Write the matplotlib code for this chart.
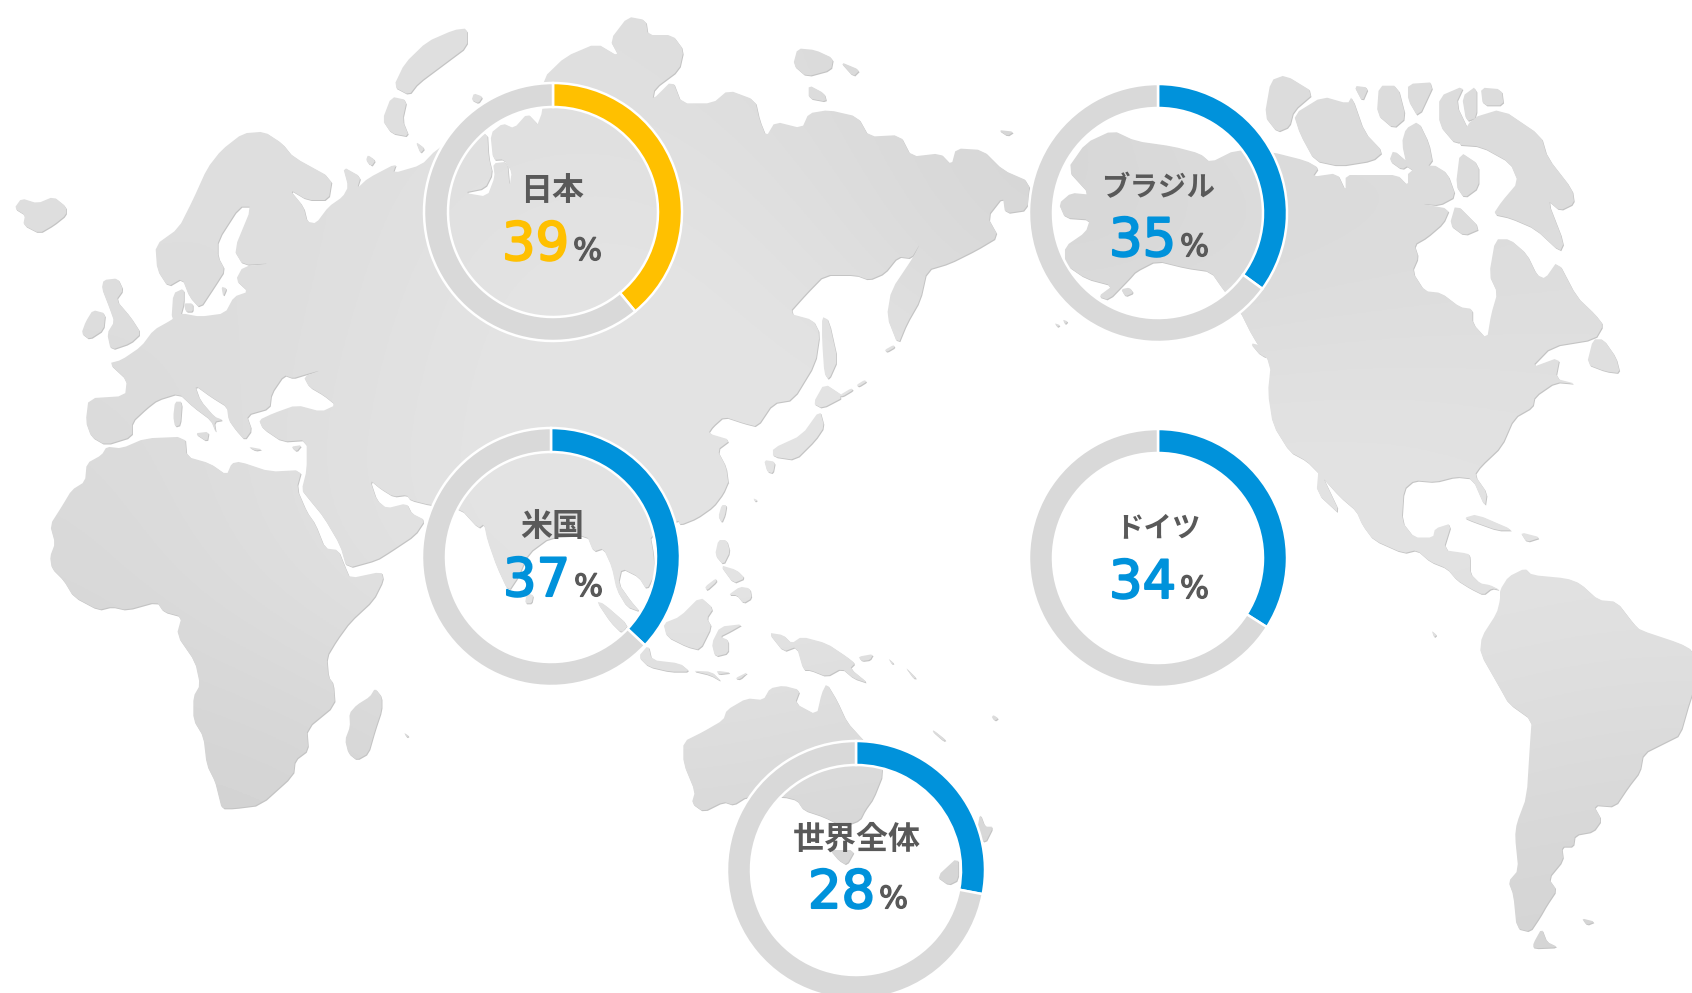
import numpy as np
import matplotlib
matplotlib.use("Agg")
import matplotlib.pyplot as plt
import matplotlib.patheffects as pe
from matplotlib.path import Path
from matplotlib.patches import PathPatch
from matplotlib.transforms import Affine2D

# ---------- data ----------
labels = ["日本", "ブラジル", "米国", "ドイツ", "世界全体"]
values = [39, 35, 37, 34, 28]
number_colors = ["#FFC000", "#0092DB", "#0092DB", "#0092DB", "#0092DB"]

# ---------- layout (pixels of the 1692x993 picture, y down) ----------
centers = [(553, 212), (1158, 213), (551, 557), (1158, 558), (856, 870)]
label_dx = [-1, 0, 1, 0, 1]
label_dy = [-21, -25, -30, -30, -30]
label_size = [23, 20.5, 23, 20.5, 23]
base_dy = [48, 43, 39, 40, 38]
num_dx = [-51, -49, -48, -49, -48]
W, H = 1692, 993

# origin and scale of the traced outlines of the background map
FR = {"a": (0, 100, 2.8, 3), "b": (30, 420, 3, 3), "c": (360, 0, 2.24, 3),
      "d": (1040, 50, 2.405, 2.8), "e": (1300, 540, 3, 3), "f": (580, 480, 3, 3),
      "g": (390, 420, 3, 3)}


def Z(k, pts):
    x0, y0, sx, sy = FR[k]
    return [(x0 + a / sx, H - (y0 + b / sy)) for a, b in pts]


def soften(poly, r=0.18):
    """Round the corners of a traced outline a little."""
    out = []
    n = len(poly)
    for i in range(n):
        (ax_, ay_), (bx_, by_) = poly[i], poly[(i + 1) % n]
        out.append((ax_ + r * (bx_ - ax_), ay_ + r * (by_ - ay_)))
        out.append((bx_ - r * (bx_ - ax_), by_ - r * (by_ - ay_)))
    return out


eurasia = (
    Z("a", [(295, 1035), (255, 1010), (240, 965), (248, 895), (350, 888), (355, 840), (305, 790), (340, 780),
            (395, 740), (430, 690), (480, 660), (490, 650), (510, 640), (560, 650), (630, 640), (655, 590),
            (695, 575), (660, 540), (680, 500), (760, 490), (680, 495), (655, 450), (705, 320), (670, 320),
            (610, 420), (610, 470), (630, 510), (600, 560), (560, 625), (530, 590), (510, 535), (470, 560),
            (440, 510), (435, 435), (500, 385), (540, 300), (580, 205), (620, 150), (680, 100), (740, 95),
            (790, 130), (820, 170), (930, 235), (920, 300), (860, 300), (810, 268), (850, 320), (860, 365),
            (885, 370), (920, 320), (960, 290), (975, 260), (960, 200), (1010, 230), (1000, 265), (1030, 235),
            (1110, 190), (1100, 220), (1180, 195)])
    + Z("c", [(170, 450), (230, 400), (285, 395), (288, 470), (297, 520), (280, 565), (232, 578), (285, 590),
              (302, 530), (298, 490), (330, 485), (335, 560), (340, 515), (322, 478), (298, 480), (292, 400),
              (320, 370), (345, 385), (375, 340), (400, 375), (390, 400), (410, 330), (410, 235), (460, 170),
              (530, 130), (580, 170), (560, 120), (600, 50), (640, 60), (645, 105), (700, 105), (725, 150),
              (715, 210), (660, 265), (655, 300), (700, 240), (720, 310), (790, 310), (825, 270), (885, 300),
              (895, 360), (910, 410), (930, 365), (990, 385), (1005, 340), (1050, 330), (1115, 350), (1140, 410),
              (1210, 405), (1235, 470), (1300, 460), (1325, 495), (1335, 445), (1395, 450), (1440, 510),
              (1500, 545), (1495, 630), (1445, 640), (1440, 590), (1405, 650), (1430, 710), (1380, 750),
              (1320, 790), (1270, 810), (1255, 900), (1225, 970), (1205, 1035), (1180, 950), (1190, 870),
              (1240, 770), (1255, 730), (1235, 775), (1205, 770), (1175, 820), (1140, 840), (1110, 825),
              (1040, 825), (1000, 880), (960, 940), (1015, 960), (1030, 1000), (1020, 1090), (970, 1200),
              (925, 1210), (890, 1280), (860, 1270), (815, 1250), (790, 1280), (780, 1300), (830, 1320),
              (800, 1350), (820, 1400), (825, 1450)])
    + Z("f", [(445, 5), (430, 40), (400, 80), (350, 115), (300, 135)])
    + Z("g", [(864, 300), (780, 345), (790, 400), (795, 460), (770, 510), (745, 470), (695, 445), (685, 490),
              (720, 540), (750, 575), (710, 560), (680, 510), (665, 440), (640, 385), (610, 395), (590, 345),
              (480, 352), (415, 400), (385, 470), (355, 515), (320, 440), (292, 360), (282, 312), (265, 325),
              (210, 265), (120, 255)])
    + Z("b", [(1140, 240), (1130, 225), (1090, 230), (1050, 205), (1020, 180), (1040, 240), (1070, 265),
              (1130, 250), (1145, 280), (1185, 300), (1155, 345), (1080, 395), (1040, 420), (950, 445),
              (930, 375), (880, 290), (835, 235), (815, 210), (830, 150), (830, 60)])
    + Z("a", [(790, 1025), (735, 985), (725, 960), (765, 940), (830, 915), (900, 935), (940, 915), (905, 885),
              (865, 860), (850, 830), (900, 810), (850, 825), (820, 835), (795, 825), (760, 880), (755, 925),
              (690, 945), (705, 990), (685, 1020), (660, 990), (640, 960), (635, 920), (590, 890), (545, 855),
              (560, 900), (600, 950), (625, 960), (600, 965), (605, 1000), (590, 960), (540, 920), (500, 880),
              (440, 900), (410, 925), (370, 965), (370, 1010)])
)
africa = Z("b", [(230, 80), (275, 85), (345, 55), (465, 50), (470, 110), (540, 130), (590, 165), (605, 130),
                 (630, 125), (720, 155), (815, 150), (800, 205), (830, 275), (855, 310), (885, 385), (925, 390),
                 (945, 440), (960, 475), (1055, 455), (1060, 480), (1030, 540), (960, 605), (920, 660), (890, 710),
                 (895, 770), (910, 790), (915, 855), (830, 925), (835, 990), (795, 1020), (790, 1065), (690, 1155),
                 (610, 1165), (575, 1165), (565, 1125), (555, 1085), (530, 1035), (520, 950), (490, 900), (490, 830),
                 (510, 795), (495, 725), (440, 645), (455, 590), (400, 575), (380, 545), (290, 570), (245, 560),
                 (205, 570), (130, 530), (100, 480), (65, 445), (60, 410), (75, 370), (60, 315), (95, 260),
                 (125, 210), (165, 185), (170, 130), (215, 105)])
north_america = (
    Z("d", [(65, 335), (110, 260), (175, 225), (230, 255), (320, 270), (385, 290), (410, 315), (470, 280),
            (555, 285), (640, 310), (670, 330), (655, 355), (715, 345), (735, 395), (735, 350), (790, 350),
            (860, 350), (885, 380), (885, 340), (945, 320), (980, 345), (1000, 410), (960, 435), (915, 430),
            (985, 445), (970, 485), (930, 525), (900, 545), (910, 580), (895, 620), (925, 675), (965, 680),
            (1010, 720), (1040, 725), (1040, 765), (1075, 810), (1085, 740), (1100, 680), (1080, 630), (1095, 530),
            (1130, 530), (1170, 570), (1195, 630), (1215, 640), (1245, 590), (1290, 690), (1335, 740), (1355, 770),
            (1335, 810), (1230, 830), (1180, 890), (1250, 860), (1240, 920), (1290, 935), (1240, 930), (1190, 970),
            (1185, 1000), (1140, 1030), (1110, 1110), (1060, 1165), (1045, 1190), (1075, 1240), (1070, 1280),
            (1040, 1200), (1000, 1195), (950, 1210), (900, 1205), (875, 1230), (870, 1320), (900, 1365), (945, 1365),
            (950, 1340), (990, 1325), (970, 1400), (1030, 1410)])
    + Z("e", [(510, 50), (510, 100), (540, 130), (570, 135), (600, 150), (575, 145), (550, 165), (510, 145),
              (470, 120), (440, 85), (390, 65), (350, 30), (310, 40), (220, 0)])
    + Z("d", [(775, 1330), (760, 1290), (720, 1250), (670, 1185), (640, 1150), (600, 1125), (560, 1050), (548, 960),
              (555, 880), (510, 800), (480, 730), (440, 670), (410, 620), (350, 610), (280, 590), (230, 620),
              (215, 640), (165, 700), (140, 690), (175, 660), (110, 640), (60, 600), (60, 550), (110, 510),
              (120, 475), (60, 470), (45, 430), (75, 400), (120, 405)])
)
south_america = Z("e", [(600, 150), (625, 110), (675, 85), (695, 105), (800, 115), (840, 130), (895, 180), (950, 185),
                        (1000, 250), (1020, 270), (1140, 310), (1176, 330), (1200, 400), (1170, 480), (1140, 585),
                        (1100, 605), (1030, 640), (1020, 695), (985, 740), (945, 800), (880, 795), (905, 840),
                        (880, 875), (825, 885), (820, 920), (785, 920), (790, 960), (745, 1015), (770, 1050),
                        (740, 1095), (720, 1130), (690, 1175), (650, 1165), (640, 1065), (625, 1025), (655, 990),
                        (645, 890), (650, 850), (680, 770), (690, 610), (695, 540), (625, 490), (600, 445), (540, 340),
                        (545, 290), (590, 220), (600, 180)])
australia = Z("f", [(310, 785), (370, 755), (430, 720), (440, 690), (500, 655), (550, 660), (570, 625), (610, 617),
                    (660, 630), (645, 670), (710, 705), (725, 640), (740, 610), (770, 660), (800, 725), (845, 775),
                    (890, 820), (910, 880), (880, 955), (855, 990), (840, 1020), (790, 1040), (730, 1010), (670, 990),
                    (650, 960), (610, 950), (500, 950), (460, 975), (430, 965), (370, 995), (335, 970), (345, 935),
                    (310, 850)])
islands = [
    Z("a", [(60, 295), (105, 310), (150, 290), (185, 320), (185, 345), (150, 375), (110, 400), (65, 375), (70, 345), (40, 325)]),
    Z("a", [(260, 630), (295, 640), (290, 690), (250, 718), (228, 700), (240, 665)]),
    Z("a", [(285, 565), (290, 540), (330, 535), (345, 570), (325, 600), (365, 650), (395, 700), (365, 730), (310, 750), (300, 700), (320, 665), (305, 620)]),
    Z("a", [(490, 905), (510, 905), (505, 975), (490, 980), (485, 950)]),
    Z("a", [(545, 1000), (585, 995), (580, 1025)]),
    Z("a", [(695, 1040), (735, 1048), (715, 1052)]),
    Z("a", [(815, 1040), (845, 1035), (830, 1055)]),
    Z("a", [(515, 610), (540, 610), (540, 635), (520, 635)]),
    Z("a", [(620, 560), (635, 565), (625, 590)]),
    Z("a", [(665, 540), (685, 540), (680, 555)]),
    Z("a", [(480, 660), (485, 580), (515, 565), (515, 610), (505, 650)]),
    Z("a", [(1030, 165), (1050, 180), (1035, 195), (1025, 180)]),
    Z("b", [(1035, 805), (1055, 830), (1055, 870), (1035, 930), (1015, 1000), (980, 1020), (955, 1000), (945, 960), (960, 920), (958, 880), (980, 855), (1020, 830)]),
    Z("b", [(1122, 938), (1137, 948), (1130, 952)]),
    Z("c", [(210, 90), (240, 85), (240, 140), (190, 190), (130, 250), (110, 285), (75, 260), (100, 190), (150, 125)]),
    Z("c", [(70, 290), (105, 300), (95, 360), (110, 410), (70, 400), (50, 360)]),
    Z("c", [(125, 425), (145, 445), (135, 460)]),
    Z("c", [(980, 145), (1020, 150), (1060, 175), (1055, 210), (1000, 230), (970, 195)]),
    Z("c", [(1075, 185), (1120, 210), (1105, 230)]),
    Z("c", [(1005, 255), (1040, 280), (1045, 305), (1005, 295)]),
    Z("c", [(1430, 390), (1465, 395), (1450, 408)]),
    Z("c", [(1035, 950), (1050, 960), (1070, 1080), (1050, 1140), (1040, 1120), (1035, 1020)]),
    Z("c", [(1040, 1150), (1085, 1190), (1035, 1225), (1015, 1210)]),
    Z("c", [(1030, 1230), (1040, 1280), (1020, 1320), (975, 1380), (925, 1370), (925, 1345), (990, 1305)]),
    Z("c", [(905, 1380), (930, 1385), (925, 1420), (912, 1415)]),
    Z("c", [(255, 280), (275, 290), (265, 310), (250, 300)]),
    Z("c", [(15, 470), (35, 480), (25, 500)]),
    Z("c", [(1075, 1185), (1100, 1165), (1105, 1170), (1080, 1190)]),
    Z("c", [(1112, 1155), (1130, 1140), (1135, 1145), (1117, 1160)]),
    Z("c", [(1175, 1050), (1195, 1035), (1198, 1042), (1180, 1056)]),
    Z("f", [(425, 75), (440, 75), (435, 105), (425, 128), (415, 110)]),
    Z("f", [(520, 55), (532, 60), (525, 65)]),
    Z("f", [(415, 180), (440, 180), (450, 215), (430, 255), (405, 225)]),
    Z("f", [(480, 320), (510, 325), (515, 355), (490, 370), (470, 345), (445, 345)]),
    Z("f", [(420, 255), (470, 270), (495, 295), (460, 310)]),
    Z("f", [(375, 320), (408, 295), (410, 305), (380, 332)]),
    Z("f", [(360, 350), (400, 385), (380, 415), (395, 440), (360, 510), (320, 500), (260, 470), (250, 430), (300, 410)]),
    Z("f", [(395, 490), (420, 440), (490, 432), (450, 455), (420, 470), (445, 480), (445, 520), (405, 530)]),
    Z("f", [(50, 365), (70, 370), (145, 435), (125, 460), (90, 425)]),
    Z("f", [(175, 530), (205, 495), (215, 540), (300, 550), (330, 575), (270, 575), (205, 560)]),
    Z("f", [(465, 595), (505, 575), (480, 598)]),
    Z("f", [(410, 572), (455, 578), (415, 583)]),
    Z("f", [(335, 572), (395, 575), (425, 605), (390, 585)]),
    Z("f", [(565, 458), (610, 465), (635, 490), (665, 470), (740, 490), (800, 530), (825, 550), (810, 565), (865, 610), (820, 595), (785, 565), (740, 590), (690, 570), (670, 570), (650, 500), (610, 515)]),
    Z("f", [(835, 530), (880, 522), (870, 540), (845, 543)]),
    Z("f", [(925, 535), (942, 550), (935, 552)]),
    Z("f", [(975, 560), (1010, 595), (1000, 595)]),
    Z("f", [(750, 1110), (825, 1110), (800, 1155), (775, 1140)]),
    Z("f", [(1200, 1000), (1215, 1040), (1240, 1040), (1215, 1090), (1190, 1060)]),
    Z("f", [(1135, 1130), (1135, 1200), (1105, 1215), (1070, 1190)]),
    Z("f", [(1060, 750), (1098, 780), (1090, 783), (1058, 755)]),
    Z("f", [(1240, 705), (1255, 715), (1245, 722), (1235, 712)]),
    Z("g", [(410, 520), (430, 525), (425, 550), (405, 550)]),
    Z("d", [(555, 85), (590, 70), (660, 120), (610, 170), (600, 215), (570, 230), (540, 185)]),
    Z("d", [(610, 180), (680, 130), (740, 150), (750, 130), (780, 230), (825, 285), (800, 310), (720, 325), (660, 310), (625, 235)]),
    Z("d", [(755, 100), (790, 105), (775, 145)]),
    Z("d", [(815, 100), (860, 100), (880, 190), (850, 220), (810, 180)]),
    Z("d", [(885, 95), (950, 90), (910, 190), (885, 140)]),
    Z("d", [(960, 130), (1020, 100), (1000, 150), (1035, 235), (1000, 265), (960, 210)]),
    Z("d", [(1015, 130), (1050, 100), (1050, 190), (1025, 200)]),
    Z("d", [(1060, 105), (1110, 110), (1115, 155), (1065, 155)]),
    Z("d", [(1040, 190), (1110, 165), (1205, 240), (1220, 300), (1280, 390), (1285, 430), (1250, 450), (1220, 420), (1260, 540), (1250, 565), (1190, 500), (1130, 470), (1090, 460), (1110, 425), (1150, 370), (1130, 315), (1060, 270), (1000, 265)]),
    Z("d", [(880, 220), (910, 200), (935, 260), (945, 320), (885, 340), (870, 260)]),
    Z("d", [(850, 280), (890, 320), (870, 335), (840, 310)]),
    Z("d", [(1010, 285), (1055, 320), (1055, 385), (1020, 415), (1000, 380)]),
    Z("d", [(1000, 430), (1060, 500), (1020, 520), (985, 490)]),
    Z("d", [(505, 820), (540, 830), (570, 870), (530, 855)]),
    Z("d", [(1330, 810), (1355, 810), (1385, 860), (1395, 905), (1360, 900), (1315, 880)]),
    Z("d", [(1020, 1310), (1050, 1300), (1140, 1345), (1100, 1345), (1040, 1320)]),
    Z("d", [(1155, 1350), (1205, 1365), (1170, 1378)]),
    Z("d", [(670, 1170), (725, 1305), (665, 1240)]),
    Z("d", [(215, 665), (225, 680), (205, 690), (195, 670)]),
    Z("d", [(35, 765), (48, 770), (42, 776)]),
    Z("d", [(55, 755), (67, 760), (60, 768)]),
    Z("e", [(700, 1210), (725, 1165), (740, 1205), (775, 1222), (700, 1225)]),
    Z("e", [(845, 1135), (885, 1145), (860, 1155)]),
    Z("e", [(395, 272), (410, 285), (402, 292)]),
]
land = [eurasia, africa, north_america, south_america, australia] + islands

# grey level of the land, coarse grid running over the picture from the top
land_grey = np.array([
    [222, 222, 222, 222, 218, 212, 222, 220, 220],
    [222, 220, 226, 228, 222, 212, 216, 218, 220],
    [218, 222, 227, 228, 228, 226, 226, 226, 224],
    [216, 222, 227, 228, 228, 226, 226, 226, 226],
    [212, 212, 218, 222, 218, 218, 222, 222, 218],
    [210, 210, 212, 212, 212, 212, 216, 212, 212],
], dtype=float)

plt.rcParams["font.family"] = ["Noto Sans CJK JP", "DejaVu Sans"]
fig = plt.figure(figsize=(W / 100, H / 100), dpi=100, facecolor="white")
ax = fig.add_axes([0, 0, 1, 1])

verts, codes = [], []
for poly in land:
    poly = soften(poly)
    verts += list(poly) + [poly[0]]
    codes += [Path.MOVETO] + [Path.LINETO] * (len(poly) - 1) + [Path.CLOSEPOLY]
land_path = Path(verts, codes)

shadow = PathPatch(land_path, facecolor="#c4c4c4", edgecolor="none", zorder=1,
                   transform=Affine2D().translate(0.8, -1.0) + ax.transData)
ax.add_patch(shadow)
im = ax.imshow(land_grey, cmap="gray", vmin=0, vmax=255, extent=(0, W, 0, H), origin="upper",
               interpolation="bicubic", aspect="auto", zorder=2)
im.set_clip_path(PathPatch(land_path, transform=ax.transData))

for i, (lab, v, col) in enumerate(zip(labels, values, number_colors)):
    cx, cy = centers[i]
    ax.pie([v, 100 - v], colors=[col, "#D9D9D9"], startangle=90, counterclock=False,
           center=(cx, H - cy), radius=129, frame=True,
           wedgeprops=dict(width=24, edgecolor="white", linewidth=1.8, zorder=3))
    ax.text(cx + label_dx[i], H - (cy + label_dy[i]), lab, ha="center", va="center", fontsize=label_size[i],
            fontweight="bold", color="#595959", zorder=5)
    ax.text(cx + num_dx[i], H - (cy + base_dy[i]), str(v), ha="left", va="baseline", fontsize=38,
            family="DejaVu Sans", color=col, zorder=5,
            path_effects=[pe.withStroke(linewidth=1.5, foreground=col)])
    ax.text(cx + num_dx[i] + 71, H - (cy + base_dy[i]), "%", ha="left", va="baseline", fontsize=22,
            family="DejaVu Sans", color="#595959", zorder=5,
            path_effects=[pe.withStroke(linewidth=0.9, foreground="#595959")])

ax.set_xlim(0, W)
ax.set_ylim(0, H)
ax.set_aspect("auto")
ax.axis("off")
fig.savefig("out.png", dpi=100, facecolor="white")
